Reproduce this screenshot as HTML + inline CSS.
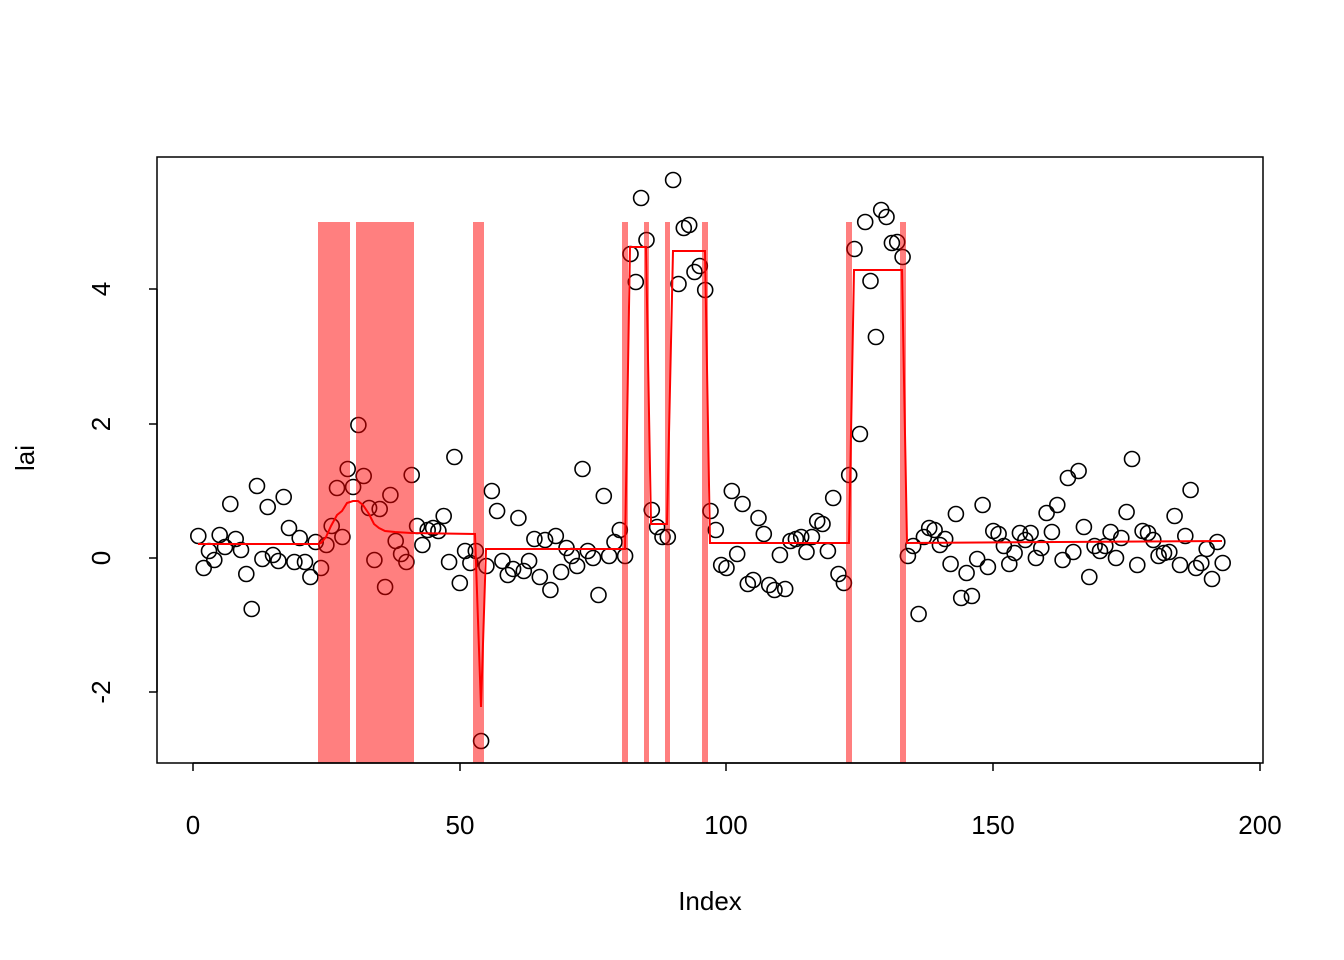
<!DOCTYPE html>
<html><head><style>body{margin:0;background:#fff}svg{display:block}</style></head><body>
<svg width="1344" height="960" xmlns="http://www.w3.org/2000/svg" font-family="Liberation Sans, Arial, sans-serif">
<g fill="none" stroke="#000" stroke-width="1.6" id="pts"></g>
<g fill="#ff0000" fill-opacity="0.5">
<rect x="318" y="222" width="32" height="541"/>
<rect x="356" y="222" width="58" height="541"/>
<rect x="473" y="222" width="11" height="541"/>
<rect x="622" y="222" width="6" height="541"/>
<rect x="644" y="222" width="5" height="541"/>
<rect x="665" y="222" width="5" height="541"/>
<rect x="702" y="222" width="6" height="541"/>
<rect x="846" y="222" width="6" height="541"/>
<rect x="900" y="222" width="6" height="541"/>
</g>
<polyline fill="none" stroke="#ff0000" stroke-width="2" points="198,544 318,544 321,543 326,537 331,526 337,515 342,511 347,503 353,501 358,501 363,505 369,514 374,524 379,528 385,531 395,532 411,533 475,534 481,707 486,549 625,549 630,247 646,247 651,524 667,524 673,251 705,251 710,543 849,543 854,270 902,270 907,543 1222,541"/>
<rect x="157" y="157" width="1106" height="606" fill="none" stroke="#000" stroke-width="1.5"/>
<g stroke="#000" stroke-width="1.5">
<line x1="193" y1="763" x2="1260" y2="763"/>
<line x1="193" y1="763" x2="193" y2="771"/><line x1="460" y1="763" x2="460" y2="771"/><line x1="726" y1="763" x2="726" y2="771"/><line x1="993" y1="763" x2="993" y2="771"/><line x1="1260" y1="763" x2="1260" y2="771"/>
<line x1="157" y1="289" x2="157" y2="692"/>
<line x1="149" y1="289" x2="157" y2="289"/><line x1="149" y1="424" x2="157" y2="424"/><line x1="149" y1="558" x2="157" y2="558"/><line x1="149" y1="692" x2="157" y2="692"/>
</g>
<g font-size="26" text-anchor="middle" fill="#000">
<text x="193" y="834">0</text><text x="460" y="834">50</text><text x="726" y="834">100</text><text x="993" y="834">150</text><text x="1260" y="834">200</text>
<text transform="translate(110,289) rotate(-90)">4</text>
<text transform="translate(110,424) rotate(-90)">2</text>
<text transform="translate(110,558) rotate(-90)">0</text>
<text transform="translate(110,692) rotate(-90)">-2</text>
<text x="710" y="910">Index</text>
<text transform="translate(34,458) rotate(-90)">lai</text>
</g>
</svg>
<script>
var ys=[536,568,551,560,535,547,504,539,550,574,609,486,559,507,555,561,497,528,562,538,562,577,542,568,545,526,488,537,469,487,425,476,508,560,509,587,495,541,554,562,475,526,545,530,528,531,516,562,457,583,551,563,551,741,566,491,511,561,575,569,518,571,561,539,577,540,590,536,572,548,556,566,469,551,558,595,496,556,542,530,556,254,282,198,240,510,527,537,537,180,284,228,225,272,266,290,511,530,565,568,491,554,504,584,580,518,534,585,590,555,589,541,539,537,552,537,521,524,551,498,574,583,475,249,434,222,281,337,210,217,243,242,257,556,546,614,537,528,530,545,539,564,514,598,573,596,559,505,567,531,534,546,564,553,533,540,533,558,548,513,532,505,560,478,552,471,527,577,546,551,546,532,558,538,512,459,565,531,533,540,556,553,552,516,565,536,490,568,563,549,579,542,563];
var g=document.getElementById('pts'),s='';
for(var i=0;i<ys.length;i++){s+='<circle cx="'+(193+5.335*(i+1)).toFixed(1)+'" cy="'+ys[i]+'" r="7.5"/>';}
g.innerHTML=s;
</script>
</body></html>
